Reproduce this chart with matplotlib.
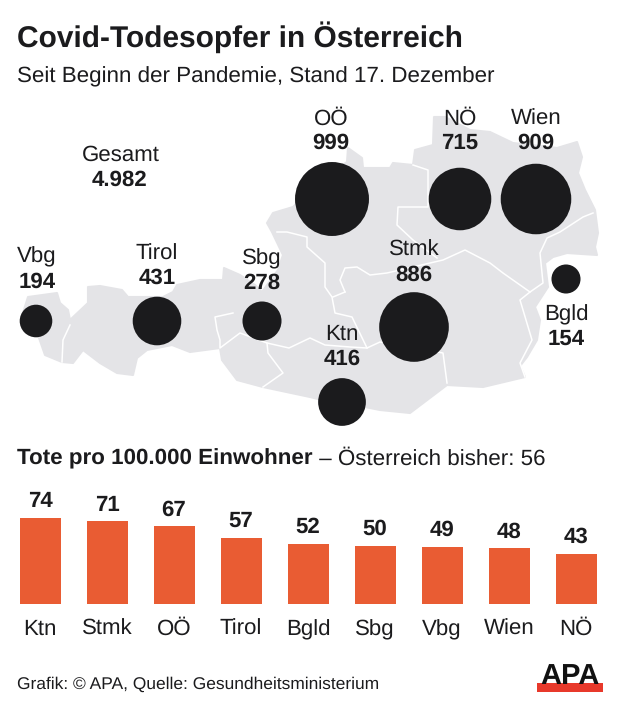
import matplotlib
matplotlib.use('Agg')
import numpy as np
import matplotlib.pyplot as plt
from matplotlib.patches import Circle, Polygon, Rectangle

plt.rcParams['font.family'] = ['Liberation Sans', 'DejaVu Sans']
plt.rcParams['text.hinting'] = 'no_hinting'

INK = '#1b1b1d'
LAND = '#e4e4e7'
ORANGE = '#e95c33'
LABEL_SIZE = 16

# Todesopfer je Bundesland
states = ['OÖ', 'NÖ', 'Wien', 'Stmk', 'Bgld', 'Ktn', 'Sbg', 'Tirol', 'Vbg']
deaths = [999, 715, 909, 886, 154, 416, 278, 431, 194]
total_label = '4.982'

# Tote pro 100.000 Einwohner
rate_states = ['Ktn', 'Stmk', 'OÖ', 'Tirol', 'Bgld', 'Sbg', 'Vbg', 'Wien', 'NÖ']
rate_values = [74, 71, 67, 57, 52, 50, 49, 48, 43]

# Kartenlage der Kreise und Beschriftungen (Pixel)
bubble_x = [332, 460, 536, 414, 566, 342, 262, 157, 36]
bubble_y = [199, 199, 199, 327, 279, 402, 321, 321, 321]
name_xy = [(331, 119), (460, 119), (536, 119), (414, 250), (566, 315), (342, 334), (262, 259), (157, 254), (37, 257)]
num_xy = [(331, 143), (460, 143), (536, 143), (414, 275), (566, 339), (342, 359), (262, 283), (157, 278), (37, 282)]

outline = [
    (28, 297), (57, 293), (60, 303), (68, 310), (70, 320), (88, 303), (88, 287), (100, 286), (122, 290),
    (128, 297), (163, 297), (173, 292), (177, 285), (200, 280), (223, 280), (224, 268), (240, 275),
    (255, 285), (262, 292), (278, 270), (283, 255), (272, 232), (267, 223), (273, 213), (293, 207),
    (320, 180), (347, 162), (348, 148), (362, 158), (363, 168), (390, 168), (393, 163), (413, 165),
    (415, 150), (433, 145), (434, 117), (445, 117), (470, 130), (490, 132), (513, 143), (557, 148),
    (577, 142), (582, 157), (578, 173), (585, 190), (595, 210), (598, 233), (595, 247), (597, 255),
    (567, 253), (553, 257), (545, 263), (548, 287), (535, 307), (540, 320), (537, 340), (527, 357),
    (520, 366), (525, 377), (483, 387), (447, 385), (410, 413), (380, 410), (365, 407), (342, 405),
    (310, 397), (263, 387), (237, 380), (222, 360), (220, 348), (190, 352), (172, 345), (147, 350),
    (137, 358), (133, 375), (117, 373), (100, 363), (83, 350), (73, 363), (62, 362), (45, 355),
    (38, 335), (23, 313),
]
borders = [
    [(70, 325), (63, 340), (62, 362)],
    [(233, 313), (215, 317), (217, 330), (220, 340), (220, 348), (240, 333), (267, 343), (268, 353), (283, 373), (263, 387)],
    [(267, 343), (289, 348), (310, 338), (325, 345), (350, 347), (367, 348), (380, 342), (443, 353), (447, 383)],
    [(277, 232), (287, 232), (307, 237), (307, 247), (325, 263), (325, 287), (332, 297), (335, 313), (352, 317), (367, 348)],
    [(345, 292), (340, 280), (345, 268), (357, 267), (370, 275), (387, 273), (443, 260), (465, 250), (490, 263), (503, 273), (530, 292)],
    [(333, 297), (345, 292)],
    [(413, 165), (428, 170), (428, 207), (398, 207), (397, 225), (413, 240), (437, 258)],
    [(593, 213), (583, 217), (560, 232), (547, 238), (540, 253), (543, 283), (530, 292), (520, 300), (532, 340), (520, 363), (525, 377)],
]

fig = plt.figure(figsize=(6.2, 7.05), dpi=100, facecolor='white')

# Kartenebene in Pixelkoordinaten
ax = fig.add_axes([0, 0, 1, 1])
ax.set_xlim(0, 620)
ax.set_ylim(705, 0)
ax.axis('off')

ax.add_patch(Polygon(outline, closed=True, facecolor=LAND, edgecolor=LAND, lw=1.5, joinstyle='round', zorder=1))
for line in borders:
    xs, ys = zip(*line)
    ax.plot(xs, ys, color='white', lw=1.1, zorder=2, solid_joinstyle='round')

# Kreisfläche proportional zum Wert
for x, y, v in zip(bubble_x, bubble_y, deaths):
    ax.add_patch(Circle((x, y), 1.17 * np.sqrt(v), facecolor=INK, edgecolor='none', zorder=3))

for name, v, (nx, ny), (vx, vy) in zip(states, deaths, name_xy, num_xy):
    ax.text(nx, ny, name, ha='center', va='center', fontsize=LABEL_SIZE, color=INK, zorder=4)
    ax.text(vx, vy, str(v), ha='center', va='center', fontsize=LABEL_SIZE, fontweight='bold', color=INK, zorder=4)

ax.text(121, 155, 'Gesamt', ha='center', va='center', fontsize=LABEL_SIZE, color=INK)
ax.text(120, 180, total_label, ha='center', va='center', fontsize=LABEL_SIZE, fontweight='bold', color=INK)

ax.text(17, 37, 'Covid-Todesopfer in Österreich', ha='left', va='center', fontsize=21.5, fontweight='bold', color=INK)
ax.text(17, 77, 'Seit Beginn der Pandemie, Stand 17. Dezember', ha='left', va='center', fontsize=16.1, color=INK)

t = ax.text(17, 459, 'Tote pro 100.000 Einwohner', ha='left', va='center', fontsize=16.1, fontweight='bold', color=INK)
ax.annotate(' – Österreich bisher: 56', xy=(1, 0.5), xycoords=t, va='center', fontsize=16.1, color=INK)

ax.text(17, 684, 'Grafik: © APA, Quelle: Gesundheitsministerium', ha='left', va='center', fontsize=12.5, color=INK)

# APA-Logo
ax.text(570, 684, 'APA', ha='center', va='baseline', fontsize=21, fontweight='bold', color='#111111')
ax.add_patch(Rectangle((537, 683), 66, 9, facecolor='#e8392b', edgecolor='none'))

# Balken
bar_ax = fig.add_axes([6.5 / 620, (705 - 604) / 705, 603 / 620, 124 / 705])
bar_ax.patch.set_alpha(0)
xpos = np.arange(len(rate_states))
bars = bar_ax.bar(xpos, rate_values, width=41 / 67, color=ORANGE)
bar_ax.set_xlim(-0.5, 8.5)
bar_ax.set_ylim(0, 124 / 1.162)
bar_ax.set_xticks(xpos, rate_states, va='baseline')
bar_ax.set_yticks([])
bar_ax.tick_params(axis='x', length=0, pad=22.3, labelsize=LABEL_SIZE, labelcolor=INK)
for s in bar_ax.spines.values():
    s.set_visible(False)
bar_ax.bar_label(bars, padding=4.5, fontsize=LABEL_SIZE, fontweight='bold', color=INK)

fig.savefig('out.png', dpi=100)
